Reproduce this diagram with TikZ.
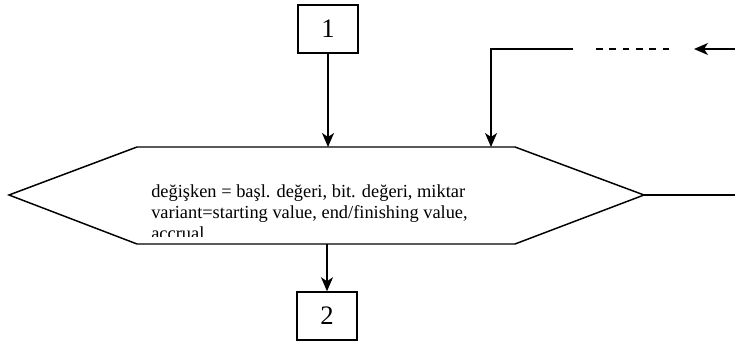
\documentclass[tikz,border=0pt]{standalone}
\usepackage{fontspec}
\setmainfont{Liberation Serif}
\usetikzlibrary{arrows.meta}
\begin{document}
\begin{tikzpicture}[x=0.75pt,y=-0.75pt,
  line/.style={line width=1.1pt},
  arr/.style={line, -{Stealth[length=10.5pt,width=9pt,inset=3pt]}},
  numbox/.style={draw, line width=1.1pt, minimum width=45pt, minimum height=36pt, inner sep=0pt, font=\fontsize{20}{20}\selectfont},
  bodytext/.style={anchor=base west, align=left, inner sep=0pt, font=\fontsize{13.8}{15.75}\selectfont}]
\useasboundingbox (0,0) rectangle (735,342);
% number boxes
\node[numbox] (b1) at (328,29) {1};
\node[numbox] (b2) at (327,316) {2};
% hexagon corners
\coordinate (hL) at (9,195);
\coordinate (hTL) at (137,147);
\coordinate (hTR) at (515,147);
\coordinate (hR) at (644,195);
\coordinate (hBR) at (515,244);
\coordinate (hBL) at (137,244);
\draw[line] (hL) -- (hTL) -- (hTR) -- (hR) -- (hBR) -- (hBL) -- cycle;
% text (clipped)
\begin{scope}
\clip (140,150) rectangle (512,236);
\node[bodytext] (txt) at (151,239) {değişken = başl. değeri, bit. değeri, miktar\\variant=starting value, end/finishing value,\\accrual};
\end{scope}
% connectors
\draw[arr] (b1.south) -- (b1.south |- hTL);
\draw[arr] (b2.north |- hBL) -- (b2.north);
\coordinate (rOut) at (735,195);
\draw[line] (hR) -- (rOut);
% feedback
\coordinate (fIn) at (735,49);
\coordinate (fTip) at (694,49);
\coordinate (dA) at (596,49);
\coordinate (dB) at (669,49);
\coordinate (sA) at (573,49);
\coordinate (fC) at (491,49);
\coordinate (fEnd) at (491,147);
\draw[arr] (fIn) -- (fTip);
\draw[line, dash pattern=on 5pt off 5pt] (dA) -- (dB);
\draw[arr] (sA) -- (fC) -- (fEnd);
\end{tikzpicture}
\end{document}
